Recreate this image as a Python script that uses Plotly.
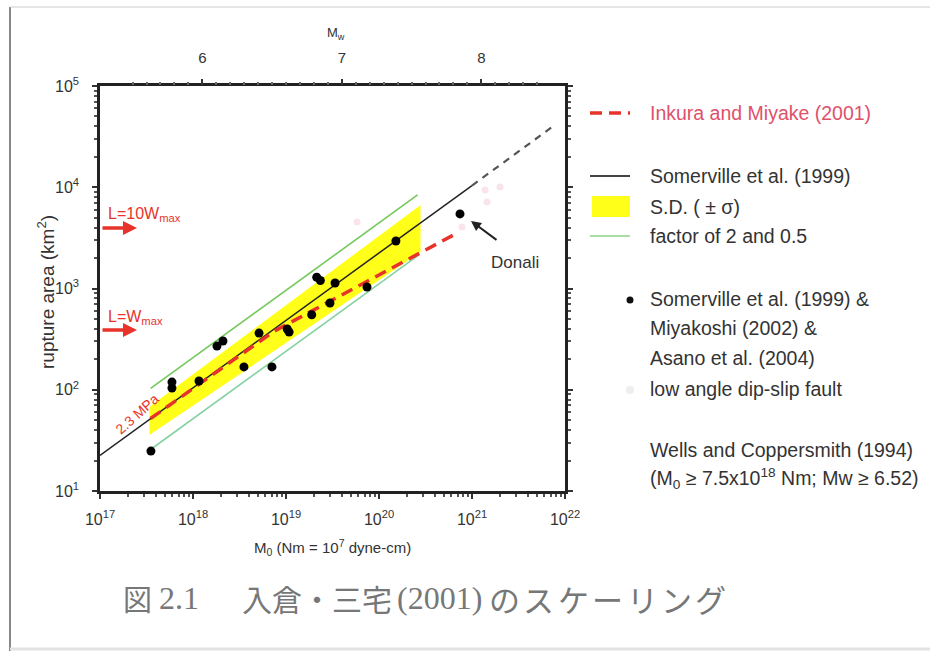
import plotly.graph_objects as go

# ---------------- data ----------------
# Somerville et al. (1999) fit line (solid part and dashed extrapolation)
somer_m0 = [1e17, 1e21]
somer_area = [22.5, 10400]
somer_ext_m0 = [1e21, 8e21]
somer_ext_area = [10400, 42000]

# factor of 2 and 0.5 lines
fac_m0 = [3.5e17, 2.6e20]
fac_hi = [103, 8400]
fac_lo = [25.7, 2100]

# S.D. band corners (upper edge left->right, lower edge right->left)
sd_m0 = [3.4e17, 2.8e20, 2.8e20, 3.4e17]
sd_area = [68, 6680, 2290, 35.7]

# Irikura and Miyake (2001)
iri_m0 = [3.5e17, 7.5e18, 6.3e20]
iri_area = [52, 380, 3370]

# Somerville (1999) & Miyakoshi (2002) & Asano (2004) events
ev_m0 = [3.53e17, 5.94e17, 5.94e17, 1.16e18, 1.81e18, 2.10e18, 3.53e18,
         5.13e18, 7.06e18, 1.03e19, 1.08e19, 1.89e19, 2.14e19, 2.34e19,
         3.37e19, 2.97e19, 7.43e19, 1.52e20, 7.43e20]
ev_area = [24.8, 119, 104, 122, 270, 303, 168,
           363, 168, 398, 372, 550, 1290, 1200,
           1132, 720, 1035, 2945, 5450]

# low angle dip-slip faults (faint)
low_m0 = [5.8e19, 7.8e20, 1.38e21, 1.45e21, 2.0e21]
low_area = [4540, 4050, 9400, 7150, 10050]

# axis ticks
x_exp = [17, 18, 19, 20, 21, 22]
y_exp = [1, 2, 3, 4, 5]
mw_major = [6, 7, 8]
mw_minor = [round(5.5 + 0.1 * i, 1) for i in range(30)]

# ---------------- helpers ----------------
W, H = 930, 651
def px(x):
    return x / W
def py(y):
    return 1 - y / H

def mw_to_m0(mw):
    return 10.0 ** (1.5 * mw + 9.1)

FONT = "Liberation Sans, Arial, sans-serif"
TXT = "#333333"
RED = "#e8332a"

fig = go.Figure()

# S.D. band
fig.add_trace(go.Scatter(x=sd_m0 + [sd_m0[0]], y=sd_area + [sd_area[0]],
                         fill="toself", fillcolor="#ffff1a", mode="none",
                         hoverinfo="skip", showlegend=False))
# factor lines
fig.add_trace(go.Scatter(x=fac_m0, y=fac_hi, mode="lines",
                         line=dict(color="#74c95a", width=1.6), showlegend=False))
fig.add_trace(go.Scatter(x=fac_m0, y=fac_lo, mode="lines",
                         line=dict(color="#86d2a0", width=1.6), showlegend=False))
# Somerville line
fig.add_trace(go.Scatter(x=somer_m0, y=somer_area, mode="lines",
                         line=dict(color="#222222", width=1.5), showlegend=False))
fig.add_trace(go.Scatter(x=somer_ext_m0, y=somer_ext_area, mode="lines",
                         line=dict(color="#555555", width=2.2, dash="7px,6px"),
                         showlegend=False))
# Irikura & Miyake
fig.add_trace(go.Scatter(x=iri_m0, y=iri_area, mode="lines",
                         line=dict(color=RED, width=3.5, dash="12px,7px"),
                         showlegend=False))
# faint points
fig.add_trace(go.Scatter(x=low_m0, y=low_area, mode="markers",
                         marker=dict(color="#f8e4e9", size=7), showlegend=False))
# events
fig.add_trace(go.Scatter(x=ev_m0, y=ev_area, mode="markers",
                         marker=dict(color="#000000", size=9), showlegend=False))
# invisible trace so the top (Mw) axis is drawn
fig.add_trace(go.Scatter(x=[ev_m0[0]], y=[ev_area[0]], xaxis="x2", mode="markers",
                         marker=dict(opacity=0), hoverinfo="skip", showlegend=False))

x_minor = [float(m) * 10.0 ** e for e in x_exp[:-1] for m in range(2, 10)]
y_minor = [float(m) * 10.0 ** e for e in y_exp[:-1] for m in range(2, 10)]

dom_x = [px(100), px(565)]
dom_y = [py(491), py(86)]

fig.update_layout(
    width=W, height=H,
    margin=dict(l=0, r=0, t=0, b=0),
    paper_bgcolor="white", plot_bgcolor="white",
    showlegend=False,
    font=dict(family=FONT, color=TXT, size=14),
    xaxis=dict(
        type="log", range=[17, 22], domain=dom_x,
        tickvals=[10.0 ** e for e in x_exp],
        ticktext=["10<sup>%d</sup>" % e for e in x_exp],
        ticks="outside", ticklen=5, tickwidth=1.5, tickcolor="#333",
        ticklabelstandoff=7,
        minor=dict(tickvals=x_minor, ticks="outside", ticklen=3, tickcolor="#555"),
        showline=True, linecolor="#222", linewidth=2.5, mirror=True,
        showgrid=False, zeroline=False,
        tickfont=dict(size=16, color=TXT),
        automargin=False,
    ),
    xaxis2=dict(
        type="log", range=[17, 22], overlaying="x", side="top",
        tickvals=[mw_to_m0(m) for m in mw_major],
        ticktext=[str(m) for m in mw_major],
        ticks="outside", ticklen=6, tickwidth=1.5, tickcolor="#333",
        ticklabelstandoff=10,
        minor=dict(tickvals=[mw_to_m0(m) for m in mw_minor], ticks="outside",
                   ticklen=3, tickcolor="#666"),
        showline=False, showgrid=False, zeroline=False,
        tickfont=dict(size=15, color=TXT),
        automargin=False,
    ),
    yaxis=dict(
        type="log", range=[1, 5], domain=dom_y,
        tickvals=[10.0 ** e for e in y_exp],
        ticktext=["10<sup>%d</sup>" % e for e in y_exp],
        ticks="outside", ticklen=5, tickwidth=1.5, tickcolor="#333",
        ticklabelstandoff=10,
        minor=dict(tickvals=y_minor, ticks="outside", ticklen=3, tickcolor="#555"),
        showline=True, linecolor="#222", linewidth=2.5, mirror="ticks",
        showgrid=False, zeroline=False,
        tickfont=dict(size=16, color=TXT),
        automargin=False,
    ),
)

shapes = []
ann = []

# axis titles
ann.append(dict(xref="paper", yref="paper", x=px(332), y=py(547),
                text="M<sub>0</sub> (Nm = 10<sup>7</sup> dyne-cm)", showarrow=False,
                xanchor="center", yanchor="middle", font=dict(size=15, color=TXT)))
ann.append(dict(xref="paper", yref="paper", x=px(46), y=py(292),
                text="rupture area (km<sup>2</sup>)", showarrow=False, textangle=-90,
                xanchor="center", yanchor="middle", font=dict(size=19, color=TXT)))
ann.append(dict(xref="paper", yref="paper", x=px(336), y=py(33),
                text="M<sub>w</sub>", showarrow=False,
                xanchor="center", yanchor="middle", font=dict(size=13, color=TXT)))

# outer frame
shapes.append(dict(type="line", xref="paper", yref="paper",
                   x0=px(10), x1=px(10), y0=py(7), y1=py(651),
                   line=dict(color="#888888", width=2)))
shapes.append(dict(type="line", xref="paper", yref="paper",
                   x0=px(10), x1=px(930), y0=py(7), y1=py(7),
                   line=dict(color="#cccccc", width=1)))
shapes.append(dict(type="line", xref="paper", yref="paper",
                   x0=px(10), x1=px(930), y0=py(649), y1=py(649),
                   line=dict(color="#e2e2e2", width=3)))

# left red arrows and labels
for yy, label in [(228, "L=10W<sub>max</sub>"), (330, "L=W<sub>max</sub>")]:
    ann.append(dict(xref="paper", yref="paper", x=px(137), y=py(yy),
                    ax=-36, ay=0, text="", showarrow=True,
                    arrowhead=2, arrowsize=0.8, arrowwidth=3.5, arrowcolor=RED))
    ann.append(dict(xref="paper", yref="paper", x=px(106), y=py(yy - 13),
                    text=label, showarrow=False, xanchor="left", yanchor="middle",
                    font=dict(size=16, color=RED)))

# 2.3 MPa label
ann.append(dict(xref="paper", yref="paper", x=px(137), y=py(414), text="2.3 MPa",
                showarrow=False, textangle=-42, xanchor="center", yanchor="middle",
                font=dict(size=14, color=RED)))

# Donali arrow and label
ann.append(dict(xref="paper", yref="paper", x=px(471), y=py(221), ax=27, ay=20,
                text="", showarrow=True, arrowhead=2, arrowsize=1,
                arrowwidth=2, arrowcolor="#222"))
ann.append(dict(xref="paper", yref="paper", x=px(489), y=py(262), text="Donali",
                showarrow=False, xanchor="left", yanchor="middle",
                font=dict(size=17, color=TXT)))

# legend (drawn manually)
LX0, LX1, TX = 590, 630, 648
shapes.append(dict(type="line", xref="paper", yref="paper",
                   x0=px(LX0), x1=px(LX1), y0=py(113), y1=py(113),
                   line=dict(color=RED, width=3.5, dash="12px,7px")))
shapes.append(dict(type="line", xref="paper", yref="paper",
                   x0=px(LX0), x1=px(LX1), y0=py(176), y1=py(176),
                   line=dict(color="#444", width=2)))
shapes.append(dict(type="rect", xref="paper", yref="paper",
                   x0=px(592), x1=px(630), y0=py(217), y1=py(196),
                   fillcolor="#ffff1a", line=dict(width=0)))
shapes.append(dict(type="line", xref="paper", yref="paper",
                   x0=px(LX0), x1=px(LX1), y0=py(236), y1=py(236),
                   line=dict(color="#8fd38a", width=1.6)))
shapes.append(dict(type="circle", xref="paper", yref="paper",
                   x0=px(626.5), x1=px(633.5), y0=py(303.5), y1=py(296.5),
                   fillcolor="#111", line=dict(width=0)))
shapes.append(dict(type="circle", xref="paper", yref="paper",
                   x0=px(626), x1=px(634), y0=py(394), y1=py(386),
                   fillcolor="#eeeeee", line=dict(width=0)))

leg_rows = [
    (113, "Inkura and Miyake (2001)", "#e0506a"),
    (176, "Somerville et al. (1999)", TXT),
    (207, "S.D. ( ± σ)", TXT),
    (236, "factor of 2 and 0.5", TXT),
    (299, "Somerville et al. (1999) &", TXT),
    (328, "Miyakoshi (2002) &", TXT),
    (358, "Asano et al. (2004)", TXT),
    (389, "low angle dip-slip fault", TXT),
    (450, "Wells and Coppersmith (1994)", TXT),
    (478, "(M<sub>0</sub> ≥ 7.5x10<sup>18</sup> Nm; Mw ≥ 6.52)", TXT),
]
for yy, t, c in leg_rows:
    ann.append(dict(xref="paper", yref="paper", x=px(TX), y=py(yy), text=t,
                    showarrow=False, xanchor="left", yanchor="middle",
                    font=dict(size=19.5, color=c)))

# caption (split in pieces to follow the reference spacing)
CJK = "Noto Sans CJK JP, sans-serif"
SERIF = "Liberation Serif, serif"
CAP_C = "#777777"
caption_head = [("図", 121, CJK, 29), ("2.1", 157, SERIF, 32),
                ("入倉・三宅", 240, CJK, 30), ("(2001)", 395, SERIF, 32)]
caption_tail = "のスケーリング"
for t, xx, fam, sz in caption_head:
    ann.append(dict(xref="paper", yref="paper", x=px(xx), y=py(598), text=t,
                    showarrow=False, xanchor="left", yanchor="middle",
                    font=dict(size=sz, color=CAP_C, family=fam)))
for i, ch in enumerate(caption_tail):
    ann.append(dict(xref="paper", yref="paper", x=px(487 + 34.4 * i), y=py(598),
                    text=ch, showarrow=False, xanchor="left", yanchor="middle",
                    font=dict(size=31, color=CAP_C, family=CJK)))

fig.update_layout(shapes=shapes, annotations=ann)
fig.write_html("out.html", config={"displayModeBar": False},
               post_script="document.body.style.margin='0';document.body.style.overflow='hidden';")
